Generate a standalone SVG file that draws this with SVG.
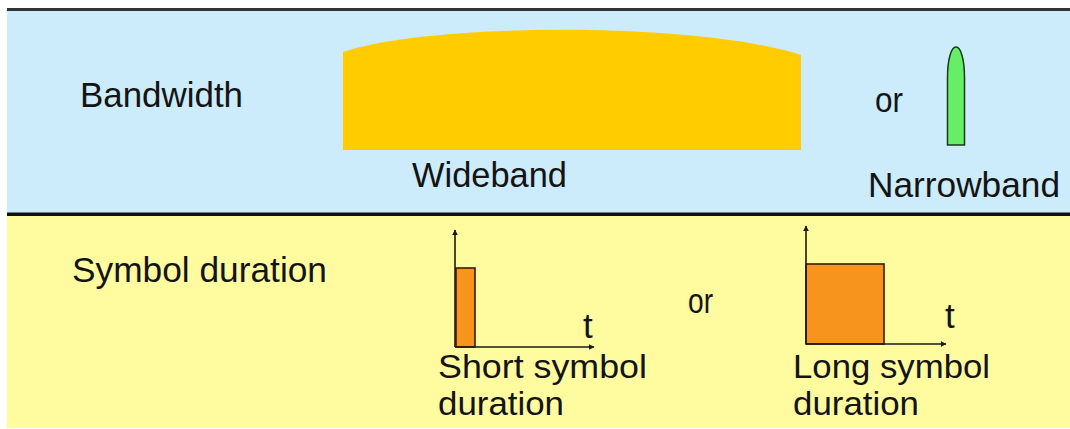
<svg xmlns="http://www.w3.org/2000/svg" width="1070" height="429" viewBox="0 0 1070 429">
<defs>
<style>
.t{font-family:"Liberation Sans",Arial,sans-serif;font-size:35px;fill:#141414}
.s{font-size:33px}
.ax{stroke:#1a1a1a;stroke-width:1.6;fill:none}
.pulse{fill:#F7941D;stroke:#3a1c08;stroke-width:1.6}
</style>
<marker id="ah" viewBox="0 0 10 10" refX="9" refY="5" markerWidth="6" markerHeight="6" orient="auto" markerUnits="userSpaceOnUse">
<path d="M0,0 L10,5 L0,10 Z" fill="#1a1a1a"/>
</marker>
</defs>
<rect x="0" y="0" width="1070" height="429" fill="#ffffff"/>
<g id="bands">
<rect x="7" y="10" width="1063" height="204" fill="#CCEBFB"/>
<rect x="7" y="214" width="1063" height="214" fill="#FFFB9E"/>
<rect x="7" y="8" width="1063" height="3" fill="#333333"/>
<rect x="7" y="212.5" width="1063" height="3.5" fill="#111111"/>
</g>
<g id="bandwidth-label"><text class="t" x="80" y="107" textLength="163" lengthAdjust="spacingAndGlyphs">Bandwidth</text></g>
<g id="wideband">
<path d="M343,52 C430,22 700,22 801,55 L801,150 L343,150 Z" fill="#FFCC00"/>
<text class="t" x="412" y="187" textLength="155" lengthAdjust="spacingAndGlyphs">Wideband</text>
</g>
<g id="or-top"><text class="t" x="875" y="112" textLength="28" lengthAdjust="spacingAndGlyphs">or</text></g>
<g id="narrowband">
<path d="M947.5,145 L947.5,78 C947.5,60 951,47 956,47 C961,47 964.5,60 964.5,78 L964.5,145 Z" fill="#66EE66" stroke="#1a3a1a" stroke-width="1.5"/>
<text class="t" x="868" y="197" textLength="192" lengthAdjust="spacingAndGlyphs">Narrowband</text>
</g>
<g id="symbol-label"><text class="t" x="72" y="282" textLength="255" lengthAdjust="spacingAndGlyphs">Symbol duration</text></g>
<g id="short-symbol">
<rect class="pulse" x="456" y="268" width="19" height="79"/>
<text class="t" x="583" y="338">t</text>
<text class="t s" x="438" y="378" textLength="209" lengthAdjust="spacingAndGlyphs">Short symbol</text>
<text class="t s" x="438" y="415" textLength="126" lengthAdjust="spacingAndGlyphs">duration</text>
</g>
<g id="or-bottom"><text class="t" x="688" y="313" textLength="25" lengthAdjust="spacingAndGlyphs">or</text></g>
<g id="long-symbol">
<rect class="pulse" x="806" y="264" width="78" height="80"/>
<text class="t" x="945" y="328">t</text>
<text class="t s" x="793" y="378" textLength="197" lengthAdjust="spacingAndGlyphs">Long symbol</text>
<text class="t s" x="793" y="415" textLength="126" lengthAdjust="spacingAndGlyphs">duration</text>
</g>
<g id="connectors">
<line class="ax" x1="455" y1="347" x2="455" y2="230" marker-end="url(#ah)"/>
<line class="ax" x1="455" y1="347" x2="594" y2="347" marker-end="url(#ah)"/>
<line class="ax" x1="806" y1="344" x2="806" y2="226" marker-end="url(#ah)"/>
<line class="ax" x1="806" y1="344" x2="946" y2="344" marker-end="url(#ah)"/>
</g>
</svg>
